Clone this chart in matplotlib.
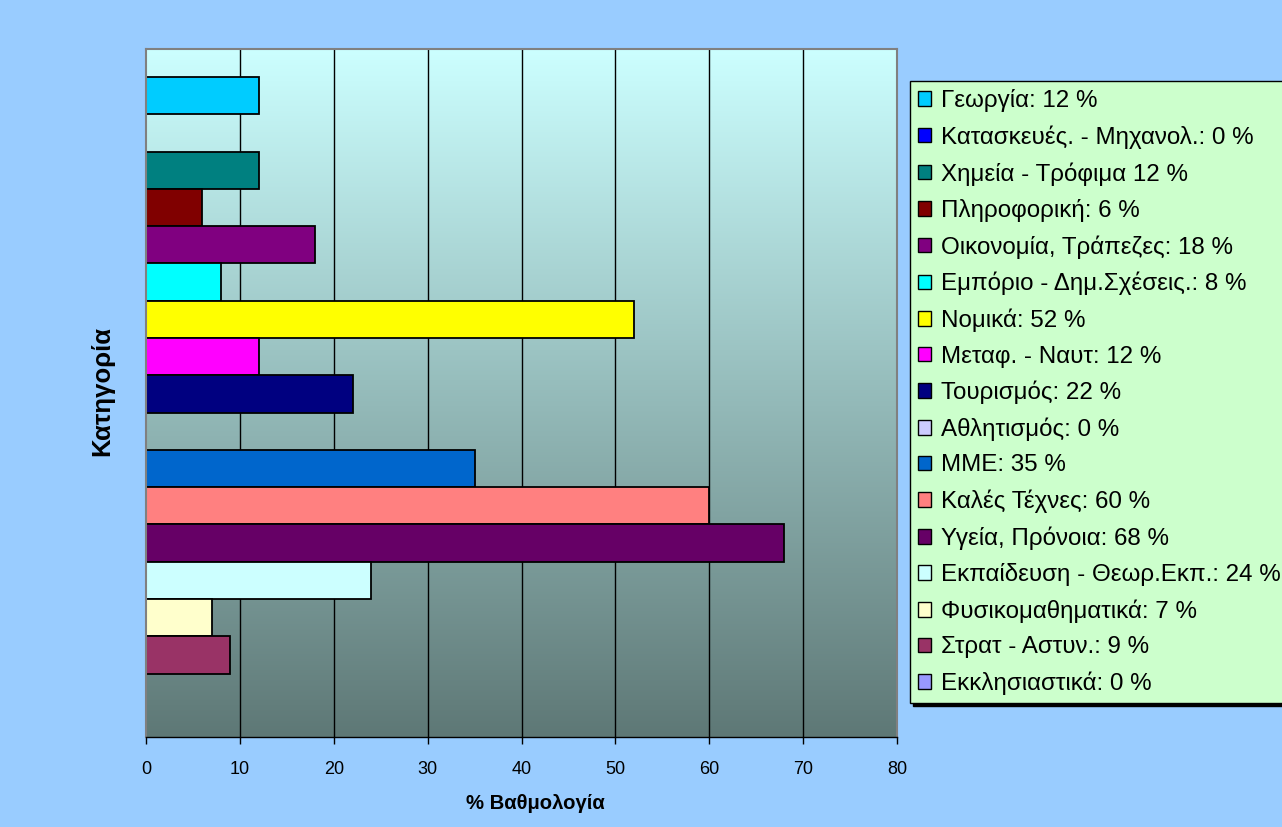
import numpy as np
import matplotlib
matplotlib.use('Agg')
import matplotlib.pyplot as plt
from matplotlib.patches import Patch

plt.rcParams['font.family'] = ['Liberation Sans', 'DejaVu Sans']

# categories, top to bottom
categories = ['Γεωργία', 'Κατασκευές. - Μηχανολ.', 'Χημεία - Τρόφιμα', 'Πληροφορική',
              'Οικονομία, Τράπεζες', 'Εμπόριο - Δημ.Σχέσεις.', 'Νομικά', 'Μεταφ. - Ναυτ',
              'Τουρισμός', 'Αθλητισμός', 'ΜΜΕ', 'Καλές Τέχνες', 'Υγεία, Πρόνοια',
              'Εκπαίδευση - Θεωρ.Εκπ.', 'Φυσικομαθηματικά', 'Στρατ - Αστυν.', 'Εκκλησιαστικά']
values = [12, 0, 12, 6, 18, 8, 52, 12, 22, 0, 35, 60, 68, 24, 7, 9, 0]
# Χημεία has no colon in the original legend
seps = [': ', ': ', ' ', ': ', ': ', ': ', ': ', ': ', ': ', ': ', ': ', ': ', ': ', ': ', ': ', ': ', ': ']
colors = ['#00CCFF', '#0000FF', '#008080', '#800000', '#800080', '#00FFFF', '#FFFF00', '#FF00FF',
          '#000080', '#CCCCFF', '#0066CC', '#FF8080', '#660066', '#CCFFFF', '#FFFFCC', '#993366',
          '#9999FF']
x_ticks = [0, 10, 20, 30, 40, 50, 60, 70, 80]

fig = plt.figure(figsize=(12.82, 8.27), dpi=100)
fig.patch.set_facecolor('#99CCFF')
ax = fig.add_axes([146/1282, 1-737/827, (897-146)/1282, (737-49)/827])

# gradient background of the plot area
top = np.array([0xCC, 0xFF, 0xFF]) / 255
bot = np.array([0x5E, 0x78, 0x76]) / 255
t = np.linspace(0, 1, 256)[:, None]
grad = (top[None, :] * (1 - t) + bot[None, :] * t)[:, None, :]
ax.imshow(grad, extent=[0, 1, 0, 1], transform=ax.transAxes, aspect='auto',
          origin='upper', zorder=0)

y = np.arange(len(categories))
for xv in x_ticks[1:-1]:
    ax.axvline(xv, color='black', lw=1, zorder=1)
ax.barh(y, values, height=1.0, color=colors, edgecolor='black', linewidth=1.3, zorder=2)

ax.set_xlim(0, 80)
ax.set_ylim(17.2, -1.25)
ax.set_xticks(x_ticks)
ax.set_xticklabels([str(v) for v in x_ticks], fontsize=13)
ax.set_yticks([])
ax.tick_params(axis='x', length=5, width=1, pad=12, direction='out')
for s in ['left', 'top', 'right']:
    ax.spines[s].set_color('#808080')
    ax.spines[s].set_linewidth(1.5)
ax.spines['bottom'].set_color('black')
ax.spines['bottom'].set_linewidth(1)

ax.set_xlabel('% Βαθμολογία', fontsize=14.6, fontweight='bold', va='center')
ax.xaxis.set_label_coords(0.518, -0.096)
ax.set_ylabel('Κατηγορία', fontsize=18.5, fontweight='bold', va='center')
ax.yaxis.set_label_coords(-0.058, 0.503)

handles = [Patch(facecolor=c, edgecolor='black', linewidth=1) for c in colors]
labels = [f'{c}{s}{v} %' for c, s, v in zip(categories, seps, values)]
leg = fig.legend(handles, labels, loc='upper left', bbox_to_anchor=(910/1282, 1-81/827),
                 borderaxespad=0, fontsize=17.4, frameon=True, fancybox=False,
                 facecolor='#CCFFCC', edgecolor='black', framealpha=1,
                 shadow={'color': 'black', 'alpha': 1},
                 handlelength=0.55, handleheight=0.55, handletextpad=0.4,
                 labelspacing=0.55, borderpad=0.33)
leg.get_frame().set_linewidth(1)

fig.savefig('out.png', dpi=100, facecolor=fig.get_facecolor())
